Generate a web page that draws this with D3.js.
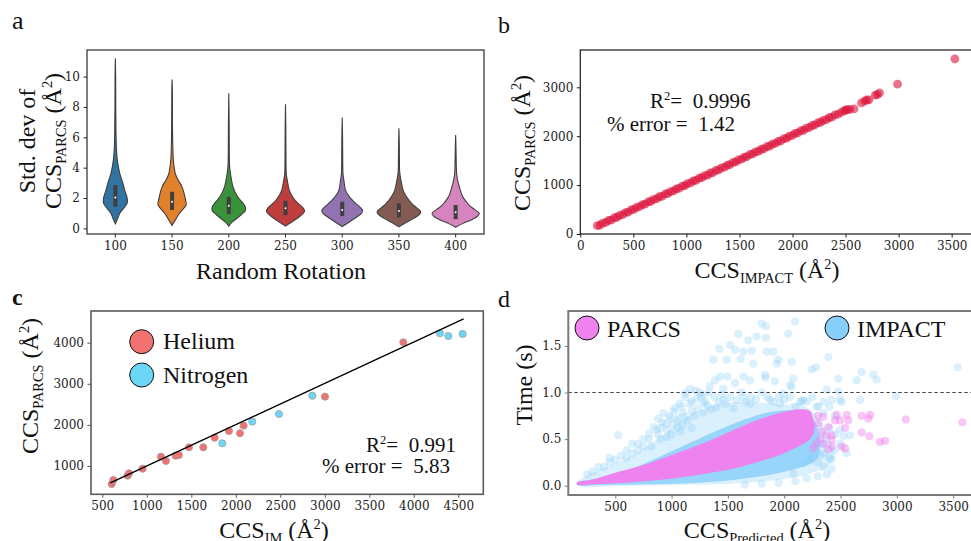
<!DOCTYPE html>
<html><head><meta charset="utf-8">
<script src="https://cdn.jsdelivr.net/npm/d3@7"></script>
<style>body{margin:0;background:#fff;} text{white-space:pre;}</style>
</head><body>
<svg id="c" width="971" height="541" xmlns="http://www.w3.org/2000/svg"></svg>
<script>
// ---------------- DATA ----------------
// Panel a: violins (std dev value, relative density)
const rotations = ["100","150","200","250","300","350","400"];
const profile100 = [[0.3,0],[0.55,1.7],[1.0,4.5],[1.3,8],[1.6,11.5],[1.8,12.2],[2.1,11.5],[2.5,9.5],[3.0,7.5],[3.6,4.5],[4.5,2],[5.4,1],[6.5,0.6],[8,0.4],[10,0.3],[11.2,0]];
const profile150 = [[0.2,0],[0.55,3.3],[1.0,7.5],[1.3,11.5],[1.55,14.2],[1.8,13.8],[2.1,12.8],[2.75,10],[3.2,6],[3.6,3.3],[4.5,1.3],[5.5,0.7],[7,0.4],[9,0.3],[9.8,0]];
const profile200 = [[0.15,0],[0.4,3],[0.6,7],[0.9,12.5],[1.15,16.5],[1.3,17],[1.5,16],[1.8,12.5],[2.1,8.8],[2.75,4.2],[3.6,1.7],[4.1,0.8],[5,0.5],[7,0.35],[8.9,0]];
const profile250 = [[0.15,0],[0.44,6.7],[0.77,14],[1.0,18],[1.16,19.2],[1.4,17],[1.6,13.5],[1.87,9.5],[2.2,6],[2.52,3.8],[3.2,1.7],[3.6,0.8],[4.5,0.5],[6.5,0.35],[8.17,0]];
const profile300 = [[0.12,0],[0.44,7.5],[0.77,15],[1.0,19.5],[1.2,20.5],[1.45,17],[1.65,13.5],[1.87,10],[2.2,6],[2.52,3.3],[3.2,1.6],[3.6,0.8],[4.5,0.5],[6,0.35],[7.3,0]];
const profile350 = [[0.1,0],[0.37,6.7],[0.66,15],[0.9,20.5],[1.09,22],[1.35,18],[1.6,13.5],[1.87,10],[2.2,6.5],[2.52,4.2],[3.18,2],[3.7,0.8],[4.5,0.5],[5.5,0.35],[6.6,0]];
const profile400 = [[0.08,0],[0.33,7.5],[0.59,16.7],[0.8,22],[0.99,23.8],[1.25,19],[1.5,14],[1.75,10.8],[2.1,7],[2.52,4.7],[3.18,2],[3.6,1],[4.5,0.55],[5.3,0.35],[6.15,0]];
const q1s = [1.43,1.21,0.94,0.88,0.81,0.73,0.61];
const medians = [2.04,1.75,1.49,1.32,1.21,1.14,1.07];
const q3s = [2.85,2.41,2.08,1.82,1.75,1.65,1.54];
const aYTicks = [0,2,4,6,8,10];

// Panel b: CCS IMPACT vs CCS PARCS
const bX = [160,185,210,240,265,290,320,345,370,400,425,450,480,505,530,560,585,610,640,665,690,720,745,770,800,825,850,880,905,930,960,985,1010,1040,1065,1090,1120,1145,1170,1200,1225,1250,1280,1305,1330,1360,1385,1410,1440,1465,1490,1520,1545,1570,1600,1625,1650,1680,1705,1730,1760,1785,1810,1840,1865,1890,1920,1945,1970,2000,2025,2050,2080,2105,2130,2160,2185,2210,2240,2265,2290,2320,2345,2370,2400,2430,2460,2490,2500,2520,2540,2580,2650,2680,2700,2720,2780,2800,2820,2990,3530];
const bY = [170,179,221,235,276,285,332,341,382,397,438,447,494,503,544,559,600,609,656,665,706,721,762,771,818,827,868,883,924,933,980,989,1030,1044,1086,1095,1141,1151,1192,1206,1248,1257,1303,1313,1354,1368,1410,1419,1465,1475,1516,1530,1572,1581,1627,1637,1678,1692,1733,1743,1789,1798,1840,1854,1895,1905,1951,1960,2002,2016,2057,2067,2113,2122,2164,2178,2219,2229,2275,2284,2325,2340,2381,2390,2437,2451,2490,2520,2540,2545,2550,2560,2680,2720,2740,2745,2840,2850,2885,3065,3580];
const bXTicks = [0,500,1000,1500,2000,2500,3000,3500];
const bYTicks = [0,1000,2000,3000];

// Panel c: CCS IM vs CCS PARCS
const heliumX = [605,624,785,800,953,1159,1215,1324,1361,1474,1635,1762,1923,2047,2088,3002,3882];
const heliumY = [562,659,765,822,935,1227,1122,1251,1268,1454,1454,1689,1852,1795,1981,2687,4009];
const nitrogenX = [1848,2185,2485,2860,4294,4388,4549];
const nitrogenY = [1551,2079,2265,2711,4228,4163,4212];
const fitX = [590,4560];
const fitY = [588,4581];
const cXTicks = [500,1000,1500,2000,2500,3000,3500,4000,4500];
const cYTicks = [1000,2000,3000,4000];

// Panel d: time vs CCS predicted
const impactOuter = [[160,0.04],[300,0.14],[500,0.24],[700,0.36],[850,0.48],[1000,0.62],[1100,0.71],[1250,0.81],[1400,0.87],[1600,0.9],[1800,0.89],[2000,0.87],[2150,0.87],[2250,0.8],[2350,0.65],[2420,0.45],[2450,0.32],[2380,0.2],[2250,0.14],[2100,0.09],[1900,0.055],[1700,0.035],[1400,0.015],[1000,0.005],[600,0.0],[170,0.0]];
const impactInner = [[160,0.03],[400,0.09],[600,0.16],[800,0.26],[1000,0.37],[1200,0.48],[1400,0.59],[1600,0.69],[1800,0.77],[2000,0.81],[2200,0.79],[2300,0.6],[2300,0.3],[2200,0.22],[2000,0.15],[1800,0.1],[1600,0.07],[1400,0.045],[1200,0.03],[1000,0.02],[700,0.012],[400,0.008],[160,0.01]];
const parcsCore = [[160,0.035],[275,0.06],[500,0.14],[720,0.21],[1000,0.33],[1310,0.47],[1500,0.57],[1750,0.7],[1960,0.78],[2140,0.82],[2230,0.8],[2260,0.7],[2270,0.6],[2230,0.5],[2140,0.43],[1960,0.33],[1750,0.25],[1500,0.17],[1310,0.13],[1000,0.075],[720,0.045],[500,0.025],[275,0.012],[160,0.01]];
const impactPoints = [[1800,1.74],[1838,1.71],[2096,1.76],[2036,1.63],[1592,1.63],[1681,1.56],[1755,1.60],[1838,1.59],[1518,1.51],[1424,1.47],[1563,1.46],[1637,1.44],[1711,1.45],[1844,1.44],[1903,1.44],[1370,1.35],[1489,1.35],[1613,1.36],[1726,1.31],[1933,1.31],[2066,1.33],[2244,1.25],[2282,1.27],[2392,1.38],[2688,1.22],[2791,1.19],[2821,1.14],[2643,1.13],[2992,0.96],[3540,1.27],[2480,1.15],[2377,1.03],[2480,1.01],[2510,0.90],[2155,0.91],[1430,1.17],[1495,1.17],[1385,1.13],[1637,1.17],[1696,1.13],[1835,1.16],[1918,1.12],[2066,1.06],[1163,1.04],[1213,1.02],[1341,1.07],[1459,1.04],[1563,1.10],[1282,0.97],[1119,0.99],[1030,0.83],[926,0.78],[838,0.63],[527,0.54],[1282,0.88],[1459,0.92],[1637,0.95],[1874,0.92],[1992,0.99],[2288,0.85],[2347,0.78],[2495,0.60],[2525,0.53],[2554,0.35],[2347,0.35],[2229,0.27],[2495,0.45],[2228,0.31],[2318,0.33],[2170,0.24],[2081,0.13],[2347,0.45],[2584,0.54],[2495,0.92],[2673,0.92],[2303,0.85],[1948,1.35],[1829,1.19],[2081,1.15],[2051,1.08],[2170,0.92],[2140,0.90],[1963,0.88],[2422,0.92],[1260,0.95],[1180,0.9],[1090,0.85],[990,0.72],[900,0.62],[1320,0.86],[1400,0.84],[1550,0.83],[1700,0.95],[1100,0.78],[950,0.66],[1050,0.7],[300,0.15],[400,0.2],[450,0.25],[600,0.3],[650,0.35],[700,0.38],[750,0.42],[800,0.5],[880,0.55],[960,0.6],[1010,0.66],[1060,0.72],[1120,0.74],[1180,0.8],[1230,0.83],[2300,0.25],[2350,0.2],[2400,0.3],[2450,0.38],[2420,0.18],
  [700,0.45],[750,0.5],[800,0.56],[820,0.42],[870,0.6],[900,0.5],[920,0.68],[960,0.52],[980,0.75],[1000,0.55],[1020,0.8],[1050,0.62],[1070,0.88],[1100,0.65],[1120,0.95],[1140,0.7],[1160,0.88],[1200,0.75],[1220,0.93],[1250,1.0],[1280,0.78],[1300,0.9],[1330,1.0],[1350,0.82],[1380,0.95],[1420,0.9],[1450,0.98],[1480,0.88],[1520,0.95],[1580,0.92],[1620,1.0],[1660,0.9],[1700,0.88],[1750,0.93],[1800,1.0],[1850,0.95],[1900,0.9],[1950,0.95],[2000,0.92],[2050,0.95],[2100,0.85],[2200,0.9],[2250,0.95],[2350,0.9],[2400,0.85],[2450,0.75],[2400,0.62],[2450,0.55],[2420,0.28],[2380,0.12],[2300,0.1],[2200,0.08],[2100,0.05],[1950,0.03],[1800,0.02],[1650,0.01],[600,0.38],[550,0.32],[500,0.28],[450,0.3],[350,0.2],[250,0.12],[650,0.45],[880,0.72],[1080,0.58],[1180,0.62]];
const parcsPoints = [[2688,0.75],[2747,0.72],[2762,0.76],[3079,0.71],[3582,0.68],[2688,0.57],[2756,0.53],[2851,0.47],[2895,0.48],[2555,0.76],[2569,0.70],[2495,0.70],[2451,0.70],[2540,0.62],[2511,0.42],[2540,0.40],[2422,0.42],[2392,0.39],[2422,0.49],[2377,0.54],[2333,0.58],[2303,0.67],[2422,0.54],[2392,0.63],[2347,0.74],[2466,0.76],[2300,0.75],[2280,0.45],[2320,0.50],[2350,0.45],[2260,0.40]];
const dThreshold = [1.0];
const dXTicks = [500,1000,1500,2000,2500,3000,3500];
const dYTicks = [0,0.5,1.0,1.5];

// ---------------- DRAWING ----------------
const SERIF = "'Liberation Serif','Times New Roman',Times,serif";
const TICKF = "'DejaVu Serif',serif";
const svg = d3.select("#c");
const defs = svg.append("defs");

function rich(g, x, y, parts, size, opt) {
  opt = opt || {};
  const t = g.append("text").attr("x", x).attr("y", y)
    .attr("font-family", SERIF).attr("font-size", size)
    .attr("font-weight", opt.bold ? "bold" : "normal")
    .attr("text-anchor", opt.anchor || "start").attr("fill", "#111");
  if (opt.rotate) t.attr("transform", `rotate(-90,${x},${y})`);
  let shift = 0;
  parts.forEach(p => {
    const s = typeof p === "string" ? {t: p} : p;
    const target = s.s === "sub" ? size * 0.22 : s.s === "sup" ? -size * 0.38 : 0;
    t.append("tspan").attr("dy", target - shift)
      .attr("font-size", s.s ? size * 0.6 : size).text(s.t);
    shift = target;
  });
  return t;
}

function axes(g, x, y, box, xt, yt, fx, fy, color, width) {
  const ax = g.append("g").attr("transform", `translate(0,${box.b})`)
    .call(d3.axisBottom(x).tickValues(xt).tickFormat(fx).tickSizeInner(3.5).tickSizeOuter(0).tickPadding(3.5));
  const ay = g.append("g").attr("transform", `translate(${box.l},0)`)
    .call(d3.axisLeft(y).tickValues(yt).tickFormat(fy).tickSizeInner(3.5).tickSizeOuter(0).tickPadding(3.5));
  [ax, ay].forEach(a => {
    a.select(".domain").remove();
    a.selectAll("line").attr("stroke", color).attr("stroke-width", 1);
    a.selectAll("text").attr("font-family", TICKF).attr("font-size", 12).attr("fill", "#222");
  });
  g.append("rect").attr("x", box.l).attr("y", box.t).attr("width", box.r - box.l).attr("height", box.b - box.t)
    .attr("fill", "none").attr("stroke", color).attr("stroke-width", width);
}

function clip(id, box) {
  defs.append("clipPath").attr("id", id).append("rect")
    .attr("x", box.l).attr("y", box.t).attr("width", box.r - box.l).attr("height", box.b - box.t);
}

const aaUnit = [" (Å", {t: "2", s: "sup"}, ")"];

// ---------- Panel a ----------
{
  const box = {l: 87, r: 484, t: 50, b: 234};
  const g = svg.append("g");
  const x = d3.scaleBand().domain(rotations).range([box.l, box.r]).padding(0);
  const y = d3.scaleLinear().domain([-0.37, 11.75]).range([box.b, box.t]);
  const w = d3.scaleLinear().domain([0, 24]).range([0, x.bandwidth() * 0.42]);
  const colors = ["#3274a1","#e1812c","#3a923a","#c03d3e","#9372b2","#845b53","#d684bd"];
  const profiles = [profile100, profile150, profile200, profile250, profile300, profile350, profile400];
  rotations.forEach((r, i) => {
    const cx = x(r) + x.bandwidth() / 2;
    const area = d3.area().curve(d3.curveCatmullRom)
      .y(d => y(d[0])).x0(d => cx - w(d[1])).x1(d => cx + w(d[1]));
    g.append("path").attr("d", area(profiles[i])).attr("fill", colors[i])
      .attr("stroke", "#3f3f3f").attr("stroke-width", 1.1);
    g.append("rect").attr("x", cx - 2).attr("width", 4)
      .attr("y", y(q3s[i])).attr("height", y(q1s[i]) - y(q3s[i])).attr("fill", "#3f3f3f");
    g.append("circle").attr("cx", cx).attr("cy", y(medians[i])).attr("r", 1).attr("fill", "#fff");
  });
  axes(g, x, y, box, rotations, aYTicks, d => d, d3.format("d"), "#2a2a2a", 1.2);
  rich(g, 281, 279, ["Random Rotation"], 24, {anchor: "middle"});
  rich(g, 35, 141, ["Std. dev of"], 24, {anchor: "middle", rotate: true});
  rich(g, 61, 141, ["CCS", {t: "PARCS", s: "sub"}, ...aaUnit], 24, {anchor: "middle", rotate: true});
  rich(g, 12, 29, ["a"], 26);
}

// ---------- Panel b ----------
{
  const box = {l: 580.3, r: 975, t: 50, b: 234};
  clip("clipb", box);
  const g = svg.append("g");
  const x = d3.scaleLinear().domain([0, 3720]).range([box.l, box.r]);
  const y = d3.scaleLinear().domain([0, 3763]).range([box.b, box.t]);
  g.append("g").attr("clip-path", "url(#clipb)").selectAll("circle").data(bX).join("circle")
    .attr("cx", d => x(d)).attr("cy", (d, i) => y(bY[i])).attr("r", 4.4)
    .attr("fill", "#dc143c").attr("fill-opacity", 0.6);
  axes(g, x, y, box, bXTicks, bYTicks, d3.format("d"), d3.format("d"), "#1a1a1a", 1.2);
  rich(g, 650, 108, ["R", {t: "2", s: "sup"}, "=  0.9996"], 21);
  rich(g, 607, 131, ["% error =  1.42"], 21);
  rich(g, 767, 278, ["CCS", {t: "IMPACT", s: "sub"}, ...aaUnit], 24, {anchor: "middle"});
  rich(g, 530, 143, ["CCS", {t: "PARCS", s: "sub"}, ...aaUnit], 24, {anchor: "middle", rotate: true});
  rich(g, 498, 33, ["b"], 24);
}

// ---------- Panel c ----------
{
  const box = {l: 91, r: 483.3, t: 311, b: 494.3};
  const g = svg.append("g");
  const x = d3.scaleLinear().domain([373, 4781]).range([box.l, box.r]);
  const y = d3.scaleLinear().domain([311, 4771]).range([box.b, box.t]);
  const he = "#f27272", ni = "#6bd6f8";
  g.selectAll(".he").data(heliumX).join("circle").attr("cx", d => x(d)).attr("cy", (d, i) => y(heliumY[i]))
    .attr("r", 3.6).attr("fill", he).attr("stroke", "#a0a0a0").attr("stroke-width", 0.8);
  g.selectAll(".ni").data(nitrogenX).join("circle").attr("cx", d => x(d)).attr("cy", (d, i) => y(nitrogenY[i]))
    .attr("r", 3.6).attr("fill", ni).attr("stroke", "#a0a0a0").attr("stroke-width", 0.8);
  g.append("path").attr("d", d3.line().x(d => x(d[0])).y(d => y(d[1]))(fitX.map((v, i) => [v, fitY[i]])))
    .attr("stroke", "#000").attr("stroke-width", 1.4).attr("fill", "none");
  axes(g, x, y, box, cXTicks, cYTicks, d3.format("d"), d3.format("d"), "#5a5a5a", 1.6);
  g.append("circle").attr("cx", 141.7).attr("cy", 341.7).attr("r", 12).attr("fill", he).attr("stroke", "#111");
  g.append("circle").attr("cx", 141.7).attr("cy", 375).attr("r", 12).attr("fill", ni).attr("stroke", "#111");
  rich(g, 163, 349, ["Helium"], 24);
  rich(g, 163, 383, ["Nitrogen"], 24);
  rich(g, 366, 452, ["R", {t: "2", s: "sup"}, "=  0.991"], 21);
  rich(g, 322, 473, ["% error =  5.83"], 21);
  rich(g, 274, 538, ["CCS", {t: "IM", s: "sub"}, ...aaUnit], 24, {anchor: "middle"});
  rich(g, 38, 386, ["CCS", {t: "PARCS", s: "sub"}, ...aaUnit], 24, {anchor: "middle", rotate: true});
  rich(g, 12, 305, ["c"], 24, {bold: true});
}

// ---------- Panel d ----------
{
  const box = {l: 568.3, r: 975, t: 311, b: 495};
  clip("clipd", box);
  const g = svg.append("g");
  const x = d3.scaleLinear().domain([83, 3694]).range([box.l, box.r]);
  const y = d3.scaleLinear().domain([-0.1, 1.875]).range([box.b, box.t]);
  const line = d3.line().curve(d3.curveCatmullRomClosed).x(d => x(d[0])).y(d => y(d[1]));
  const p = g.append("g").attr("clip-path", "url(#clipd)");
  p.append("path").attr("d", line(impactOuter)).attr("fill", "#87cefa").attr("fill-opacity", 0.3);
  p.append("path").attr("d", line(impactInner)).attr("fill", "#87cefa").attr("fill-opacity", 0.8);
  p.selectAll(".ip").data(impactPoints).join("circle").attr("cx", d => x(d[0])).attr("cy", d => y(d[1]))
    .attr("r", 4.1).attr("fill", "#87cefa").attr("fill-opacity", 0.3);
  p.append("path").attr("d", line(parcsCore)).attr("fill", "#ee82ee");
  p.selectAll(".pp").data(parcsPoints).join("circle").attr("cx", d => x(d[0])).attr("cy", d => y(d[1]))
    .attr("r", 4.1).attr("fill", "#ee82ee").attr("fill-opacity", 0.45);
  p.selectAll(".th").data(dThreshold).join("line").attr("x1", box.l).attr("x2", box.r)
    .attr("y1", d => y(d)).attr("y2", d => y(d)).attr("stroke", "#444").attr("stroke-width", 1.2).attr("stroke-dasharray", "3.5,2.5");
  axes(g, x, y, box, dXTicks, dYTicks, d3.format("d"), d3.format(".1f"), "#7a7a7a", 2);
  g.append("circle").attr("cx", 587).attr("cy", 328).attr("r", 12).attr("fill", "#ee82ee").attr("stroke", "#111");
  g.append("circle").attr("cx", 837).attr("cy", 328).attr("r", 12).attr("fill", "#87cefa").attr("stroke", "#111");
  rich(g, 607, 337, ["PARCS"], 24);
  rich(g, 857, 337, ["IMPACT"], 24);
  rich(g, 757, 538, ["CCS", {t: "Predicted", s: "sub"}, ...aaUnit], 24, {anchor: "middle"});
  rich(g, 532, 385, ["Time (s)"], 24, {anchor: "middle", rotate: true});
  rich(g, 498, 307, ["d"], 24);
}
</script>
</body></html>
